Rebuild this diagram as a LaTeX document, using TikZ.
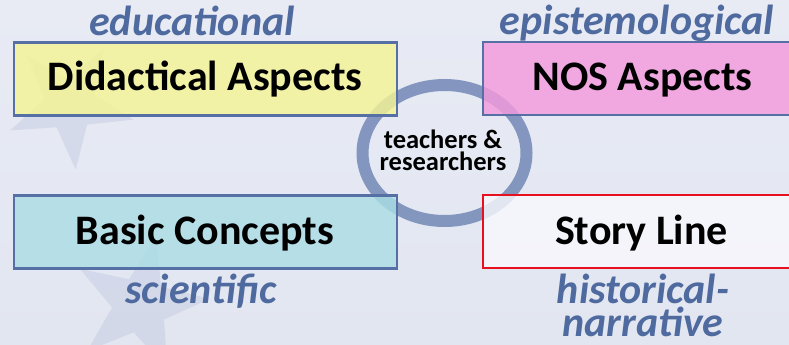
\documentclass[tikz,border=0pt]{standalone}
\usepackage{fontspec}
\setmainfont{Carlito}
\usetikzlibrary{shapes.geometric}
\definecolor{bgtop}{HTML}{E8EBF4}
\definecolor{bgbot}{HTML}{E2E6F1}
\definecolor{starcol}{HTML}{B4BCDA}
\definecolor{framecol}{HTML}{5670A6}
\definecolor{ringcol}{HTML}{7388B6}
\definecolor{labelcol}{HTML}{4F6A9F}
\definecolor{yellowfill}{HTML}{F4F494}
\definecolor{pinkfill}{HTML}{F49ADC}
\definecolor{cyanfill}{HTML}{ABDDE4}
\definecolor{whitefill}{HTML}{F8F8FC}
\definecolor{redline}{HTML}{E8101E}
\tikzset{
  panel/.style={draw=framecol, line width=2.2pt, fill opacity=0.82,
    minimum width=383pt, minimum height=73pt, inner sep=0pt},
  widepanel/.style={panel, minimum width=319pt},
  title/.style={anchor=base, font=\fontsize{42}{42}\selectfont\bfseries, text=black, inner sep=0pt},
  aspect/.style={anchor=base, font=\fontsize{42}{33}\selectfont\bfseries\itshape,
    text=labelcol, inner sep=0pt, align=center},
  faintstar/.style={star, star points=5, star point ratio=2.5, fill=starcol,
    fill opacity=0.32, draw=none, inner sep=0pt}
}
\begin{document}
\begin{tikzpicture}[x=1pt, y=-1pt]
  \useasboundingbox (0,0) rectangle (789,345);
  \clip (0,0) rectangle (789,345);
  % backdrop
  \shade[top color=bgtop, bottom color=bgbot] (0,0) rectangle (789,345);
  \node[faintstar, minimum size=130pt, rotate=-31] (star1) at (70,105) {};
  \node[faintstar, minimum size=140pt, rotate=-13] (star2) at (140,305) {};
  % central ring
  \draw[ringcol, line width=12pt, opacity=0.85] (444.5,153) ellipse [x radius=82, y radius=68];
  \node[anchor=base, font=\fontsize{26.5}{22}\selectfont\bfseries, align=center, inner sep=0pt]
    (team) at (443,170) {teachers \&\\researchers};
  % four panels
  \node[panel, fill=yellowfill] (didactic) at (205.5,79) {};
  \node[widepanel, fill=pinkfill] (nos) at (642.5,78.5) {};
  \node[panel, fill=cyanfill] (basic) at (205.5,232) {};
  \node[widepanel, fill=whitefill, draw=redline] (story) at (642.5,231.5) {};
  \node[title] (tdid) at (205,90) {Didactical Aspects};
  \node[title] (tnos) at (642.5,90) {NOS Aspects};
  \node[title] (tbas) at (205,244) {Basic Concepts};
  \node[title] (tsto) at (641.5,244) {Story Line};
  % panel qualifiers
  \node[aspect] (edu) at (192,36) {educational};
  \node[aspect] (epi) at (637,35) {epistemological};
  \node[aspect] (sci) at (201,303) {scientific};
  \node[aspect] (his) at (643,336) {historical-\\narrative};
\end{tikzpicture}
\end{document}
